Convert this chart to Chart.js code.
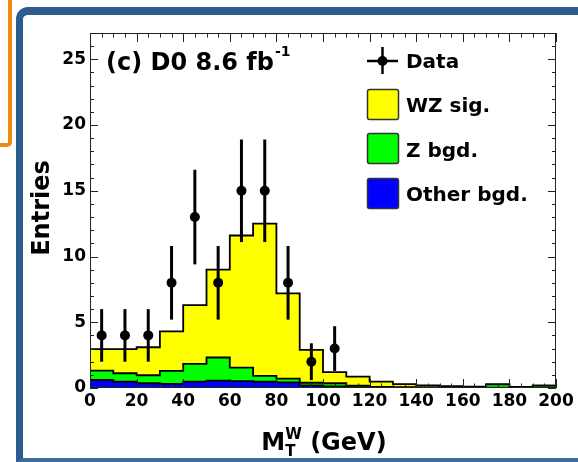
<!DOCTYPE html>
<html>
<head>
<meta charset="utf-8">
<script src="https://cdn.jsdelivr.net/npm/chart.js@4.4.1/dist/chart.umd.min.js"></script>
<style>
html, body { margin: 0; padding: 0; background: #fff; width: 578px; height: 462px; overflow: hidden; }
#orange { position: absolute; left: -20px; top: -20px; width: 28px; height: 163px;
  border-right: 4px solid #ef8a10; border-bottom: 4px solid #ef8a10; border-bottom-right-radius: 5px; }
#frame { position: absolute; left: 16px; top: 7px; width: 620px; height: 443px;
  border-left: 7px solid #2b5e8f; border-top: 8px solid #2b5e8f; border-bottom: 4px solid #3b6e9e;
  border-top-left-radius: 12px; }
canvas { position: absolute; left: 0; top: 0; }
</style>
</head>
<body>
<div id="orange"></div>
<div id="frame"></div>
<canvas id="myChart" width="578" height="462"></canvas>
<script>
// bin edges of the histograms (GeV)
const binEdges = [0, 10, 20, 30, 40, 50, 60, 70, 80, 90, 100, 110, 120, 130, 140, 150, 160, 170, 180, 190, 200];

// expected entries per bin, one array per component
const otherBgd = [0.61, 0.48, 0.36, 0.31, 0.48, 0.56, 0.53, 0.48, 0.43, 0.20, 0.12, 0.06, 0.04, 0.03, 0.03, 0.02, 0.02, 0.03, 0.02, 0.02];
const zBgd     = [0.71, 0.64, 0.61, 0.99, 1.35, 1.76, 1.02, 0.44, 0.28, 0.20, 0.24, 0.12, 0.04, 0.03, 0.02, 0.02, 0.02, 0.25, 0.02, 0.16];
const wzSig    = [1.63, 1.83, 2.13, 3.00, 4.47, 6.68, 10.05, 11.58, 6.49, 2.50, 0.84, 0.69, 0.40, 0.24, 0.15, 0.11, 0.06, 0.00, 0.04, 0.00];

// observed data
const dataX   = [5, 15, 25, 35, 45, 55, 65, 75, 85, 95, 105];
const dataY   = [4, 4, 4, 8, 13, 8, 15, 15, 8, 2, 3];
const dataErr = [2, 2, 2, 2.8, 3.6, 2.8, 3.9, 3.9, 2.8, 1.4, 1.7];

const xTickStep = 20;
const yTickStep = 5;

const FONT = "'DejaVu Sans', sans-serif";

// histogram as step points at bin low edges plus the last edge
function steps(vals) {
    const pts = vals.map((v, i) => ({ x: binEdges[i], y: v }));
    pts.push({ x: binEdges[vals.length], y: vals[vals.length - 1] });
    return pts;
}

// stacking
const zTop = otherBgd.map((v, i) => v + zBgd[i]);
const sigTop = zTop.map((v, i) => v + wzSig[i]);

function histo(label, vals, color, order) {
    return {
        type: "line",
        label: label,
        data: steps(vals),
        stepped: true,
        fill: "origin",
        backgroundColor: color,
        borderColor: "#000",
        borderWidth: 1.8,
        pointRadius: 0,
        order: order
    };
}

function line(ctx, x1, y1, x2, y2) {
    ctx.beginPath();
    ctx.moveTo(x1, y1);
    ctx.lineTo(x2, y2);
    ctx.stroke();
}

// error bars, axis ticks and frame
const decorations = {
    id: "decorations",
    afterDatasetsDraw(chart) {
        const { ctx, chartArea: a, scales: { x, y } } = chart;
        ctx.save();
        ctx.strokeStyle = "#000";
        ctx.lineWidth = 3;
        dataX.forEach((v, i) => {
            const px = x.getPixelForValue(v);
            line(ctx, px, y.getPixelForValue(dataY[i] - dataErr[i]), px, y.getPixelForValue(dataY[i] + dataErr[i]));
        });

        ctx.strokeStyle = "#222";
        ctx.lineWidth = 1;
        for (let v = 0; v <= 27; v++) {
            const py = Math.round(y.getPixelForValue(v)) + 0.5;
            const len = v % 5 === 0 ? 8 : 4;
            line(ctx, a.left, py, a.left + len, py);
            line(ctx, a.right, py, a.right - len, py);
        }
        for (let v = 0; v <= 200; v += 5) {
            const px = Math.round(x.getPixelForValue(v)) + 0.5;
            const len = v % 20 === 0 ? 9 : 4.5;
            line(ctx, px, a.bottom, px, a.bottom - len);
            line(ctx, px, a.top, px, a.top + len);
        }
        ctx.strokeRect(a.left + 0.5, a.top + 0.5, a.right - a.left - 1, a.bottom - a.top - 1);
        ctx.restore();
    },
    afterDraw(chart) {
        const ctx = chart.ctx;
        ctx.save();
        ctx.fillStyle = "#000";
        ctx.textBaseline = "alphabetic";

        // y title
        ctx.save();
        ctx.translate(49, 208);
        ctx.rotate(-Math.PI / 2);
        ctx.textAlign = "center";
        ctx.font = "bold 24px " + FONT;
        ctx.fillText("Entries", 0, 0);
        ctx.restore();

        // x title: M_T^W (GeV)
        ctx.textAlign = "left";
        ctx.font = "bold 24px " + FONT;
        const wM = ctx.measureText("M").width;
        const wRest = ctx.measureText(" (GeV)").width;
        ctx.font = "bold 15px " + FONT;
        const wSub = Math.max(ctx.measureText("W").width, ctx.measureText("T").width);
        let x0 = 324 - (wM + wSub + wRest) / 2;
        ctx.font = "bold 24px " + FONT;
        ctx.fillText("M", x0, 450);
        ctx.font = "bold 15px " + FONT;
        ctx.fillText("W", x0 + wM, 439);
        ctx.fillText("T", x0 + wM, 456);
        ctx.font = "bold 24px " + FONT;
        ctx.fillText(" (GeV)", x0 + wM + wSub, 450);

        // label
        ctx.font = "bold 24px " + FONT;
        const lab = "(c) D0 8.6 fb";
        ctx.fillText(lab, 106, 70);
        const wl = ctx.measureText(lab).width;
        ctx.font = "bold 14px " + FONT;
        ctx.fillText("-1", 106 + wl + 1, 56);

        // legend
        ctx.strokeStyle = "#000";
        ctx.lineWidth = 2.5;
        line(ctx, 367, 61, 398, 61);
        line(ctx, 382.5, 47, 382.5, 74);
        ctx.beginPath();
        ctx.arc(382.5, 61, 5, 0, Math.PI * 2);
        ctx.fill();

        const boxes = [
            ["WZ sig.", "#ffff00", 89, 112],
            ["Z bgd.", "#00ff00", 133, 157],
            ["Other bgd.", "#0000ff", 178, 201]
        ];
        ctx.lineWidth = 1.5;
        ctx.strokeStyle = "#333";
        boxes.forEach(b => {
            ctx.fillStyle = b[1];
            ctx.beginPath();
            ctx.roundRect(367.5, b[2] + 0.5, 31, 30, 2);
            ctx.fill();
            ctx.stroke();
        });
        ctx.fillStyle = "#000";
        ctx.font = "bold 20px " + FONT;
        ctx.fillText("Data", 406, 68);
        boxes.forEach(b => ctx.fillText(b[0], 406, b[3]));
        ctx.restore();
    }
};

document.addEventListener("DOMContentLoaded", function() {
    const ctx = document.getElementById("myChart");
    new Chart(ctx.getContext("2d"), {
        type: "line",
        data: {
            datasets: [
                {
                    type: "scatter",
                    label: "Data",
                    data: dataX.map((x, i) => ({ x: x, y: dataY[i] })),
                    pointRadius: 5,
                    pointBackgroundColor: "#000",
                    pointBorderWidth: 0,
                    order: 0
                },
                histo("Other bgd.", otherBgd, "#0000ff", 1),
                histo("Z bgd.", zTop, "#00ff00", 2),
                histo("WZ sig.", sigTop, "#ffff00", 3)
            ]
        },
        options: {
            responsive: false,
            animation: false,
            devicePixelRatio: 1,
            layout: { padding: { top: 33, right: 22, left: 0, bottom: 0 } },
            plugins: {
                legend: { display: false },
                tooltip: { enabled: false }
            },
            scales: {
                x: {
                    type: "linear",
                    min: 0,
                    max: 200,
                    grid: { display: false, drawTicks: false },
                    border: { display: false },
                    ticks: {
                        stepSize: xTickStep,
                        padding: 3,
                        color: "#000",
                        maxRotation: 0,
                        font: { family: FONT, size: 17, weight: "bold" }
                    },
                    afterFit: s => { s.height = 74; }
                },
                y: {
                    min: 0,
                    max: 27,
                    grid: { display: false, drawTicks: false },
                    border: { display: false },
                    ticks: {
                        stepSize: yTickStep,
                        includeBounds: false,
                        padding: 4,
                        color: "#000",
                        font: { family: FONT, size: 17, weight: "bold" }
                    },
                    afterFit: s => { s.width = 90; }
                }
            }
        },
        plugins: [decorations]
    });
});
</script>
</body>
</html>
